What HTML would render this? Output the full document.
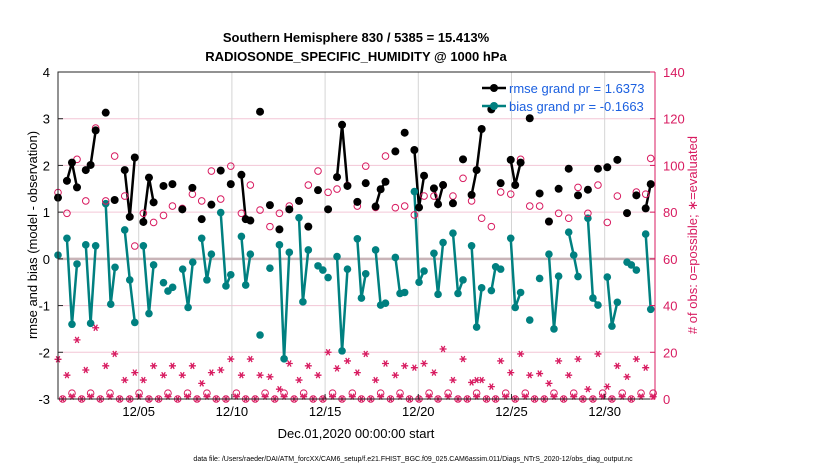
<!DOCTYPE html>
<html><head><meta charset="utf-8"><style>
body{margin:0;background:#fff;}
svg{display:block;font-family:"Liberation Sans",sans-serif;}
</style></head><body>
<svg id="chart" width="830" height="470" viewBox="0 0 830 470" xmlns="http://www.w3.org/2000/svg">
<rect width="830" height="470" fill="#fff"/>
<g id="grid"></g><g id="marks"></g><g id="axes"></g>
<text x="356" y="42" text-anchor="middle" font-size="13" font-weight="bold">Southern Hemisphere 830 / 5385 = 15.413%</text>
<text x="356" y="61" text-anchor="middle" font-size="13" font-weight="bold">RADIOSONDE_SPECIFIC_HUMIDITY @ 1000 hPa</text>
<text transform="translate(37,235) rotate(-90)" text-anchor="middle" font-size="13">rmse and bias (model - observation)</text>
<text transform="translate(697,235) rotate(-90)" text-anchor="middle" font-size="13" fill="#d81b60">#  of obs: o=possible; ∗=evaluated</text>
<text x="356" y="438" text-anchor="middle" font-size="13">Dec.01,2020 00:00:00 start</text>
<text x="413" y="461" text-anchor="middle" font-size="7">data file: /Users/raeder/DAI/ATM_forcXX/CAM6_setup/f.e21.FHIST_BGC.f09_025.CAM6assim.011/Diags_NTrS_2020-12/obs_diag_output.nc</text>
<g>
<line x1="482" y1="88" x2="506" y2="88" stroke="#000" stroke-width="2.5"/><circle cx="494" cy="88" r="4" fill="#000"/>
<text x="509" y="93" font-size="13" fill="#1a5fe0">rmse grand pr = 1.6373</text>
<line x1="482" y1="106" x2="506" y2="106" stroke="#008080" stroke-width="2.5"/><circle cx="494" cy="106" r="4" fill="#008080"/>
<text x="509" y="111" font-size="13" fill="#1a5fe0">bias grand pr = -0.1663</text>
</g>
</svg>
<script>
const xTickDays=[5,10,15,20,25,30];
const xTickLabels=['12/05','12/10','12/15','12/20','12/25','12/30'];
const yTicks=[-3,-2,-1,0,1,2,3,4];
const y2Ticks=[0,20,40,60,80,100,120,140];
const rmseT=[0.67,null,1.15,1.42,1.69,null,2.16,2.42,2.69,null,3.23,null,3.71,null,4.25,4.52,4.79,null,5.25,5.55,5.80,null,6.33,null,6.81,null,7.34,null,7.88,null,8.38,null,8.90,null,9.40,null,9.94,null,10.51,10.74,10.99,null,11.51,null,12.04,null,12.55,null,13.08,null,13.60,null,14.10,null,14.62,null,15.16,null,15.64,15.91,16.20,null,16.73,null,17.18,null,17.71,17.98,18.24,null,18.77,null,19.27,null,19.79,20.04,20.31,null,20.84,21.06,21.33,null,21.86,null,22.40,null,22.86,23.13,23.40,null,23.92,null,24.42,null,24.96,25.2,25.49,null,25.98,null,26.51,null,27.01,null,27.53,null,28.07,null,28.57,null,29.10,null,29.64,null,30.14,null,30.68,null,31.20,null,31.70,null,32.20,32.47];
const rmseV=[1.31,null,1.67,2.06,1.53,null,1.90,2.01,2.75,null,3.13,null,1.26,null,1.90,0.90,2.17,null,0.79,1.74,1.21,null,1.56,null,1.60,null,1.06,null,1.52,null,0.85,null,1.16,null,1.89,null,1.60,null,1.80,0.85,0.82,null,3.15,null,1.15,null,0.63,null,1.06,null,1.24,null,0.69,null,1.47,null,1.06,null,1.75,2.87,1.56,null,1.22,null,1.62,null,1.12,1.49,1.65,null,2.30,null,2.70,null,2.33,1.10,1.78,null,1.51,1.17,1.58,null,1.19,null,2.13,null,1.37,1.90,2.78,null,3.20,null,1.62,null,2.12,1.58,2.06,null,3.01,null,1.40,null,0.80,null,1.50,null,1.93,null,1.36,null,1.48,null,1.93,null,1.96,null,2.12,null,0.98,null,1.36,null,1.08,1.60];
const biasT=[0.67,null,1.15,1.42,1.69,null,2.16,2.42,2.69,null,3.23,3.50,3.73,null,4.25,4.52,4.79,null,5.25,5.55,5.80,null,6.33,null,6.57,6.82,null,7.36,7.65,7.90,null,8.38,8.66,8.90,null,9.40,9.68,9.94,null,10.51,10.74,10.99,null,11.51,null,12.04,null,12.55,12.80,13.08,null,13.60,13.81,14.10,null,14.62,null,14.88,null,15.16,null,15.64,15.91,16.20,null,16.73,16.95,17.18,null,17.71,17.98,18.24,null,18.77,19.02,19.27,null,19.79,20.04,20.31,null,20.84,21.06,21.33,null,21.86,22.13,22.40,null,22.86,23.13,23.40,null,23.92,24.15,24.42,null,24.96,25.2,25.49,null,25.98,null,26.51,null,27.01,27.28,27.53,null,28.07,28.34,28.57,null,29.10,29.37,29.64,null,30.14,30.39,30.68,null,31.20,31.43,31.70,null,32.20,32.47];
const biasV=[0.08,null,0.44,-1.40,-0.11,null,0.30,-1.38,0.28,null,1.18,-0.97,-0.18,null,0.62,-0.45,-1.36,null,0.28,-1.17,-0.13,null,-0.51,null,-0.69,-0.61,null,-0.22,-1.04,-0.07,null,0.44,-0.45,0.10,null,0.99,-0.58,-0.34,null,0.48,-0.56,0.10,null,-1.63,null,-0.20,null,0.30,-2.14,0.14,null,0.88,-0.92,0.19,null,-0.15,null,-0.24,null,-0.40,null,0.05,-1.97,-0.22,null,0.43,-0.84,-0.32,null,0.19,-0.99,-0.95,null,0.03,-0.74,-0.72,null,1.44,-0.50,-0.26,null,0.12,-0.76,0.35,null,0.55,-0.74,-0.45,null,0.28,-1.46,-0.62,null,-0.68,-0.17,-0.22,null,0.44,-1.04,-0.72,null,-1.31,null,-0.42,null,0.10,-1.50,-0.37,null,0.57,0.08,-0.38,null,0.87,-0.84,-0.99,null,-0.39,-1.44,-0.93,null,-0.07,-0.13,-0.24,null,0.53,-1.08];
const possT=[0.67,1.15,1.69,2.16,2.69,3.23,3.71,4.25,4.79,5.25,5.80,6.33,6.81,7.34,7.88,8.38,8.90,9.40,9.94,10.51,10.99,11.51,12.04,12.55,13.08,13.60,14.10,14.62,15.16,15.64,16.20,16.73,17.18,17.71,18.24,18.77,19.27,19.79,20.31,20.84,21.33,21.86,22.40,22.86,23.40,23.92,24.42,24.96,25.49,25.98,26.51,27.01,27.53,28.07,28.57,29.10,29.64,30.14,30.68,31.20,31.70,32.20,32.47];
const possV=[88.4,79.5,102.6,84.8,116,84.8,104,86.9,65.5,79.5,75.6,78.6,82.6,81.6,87.7,84.8,97.6,85.6,99.7,79.5,91.6,80.9,73.8,79.5,82.6,84.8,91.6,97.6,88.5,89.9,91.4,82.6,99.7,82,104,81.9,82.6,78.8,86.9,86.9,91.6,86.9,94.5,84.8,77.4,73.8,88.6,87.7,102.6,82.6,82.6,75.9,79.5,77.4,90.6,79.5,91.6,75.6,86.9,79.5,88.6,87.7,103];
const evalT=[0.67,1.15,1.69,2.16,2.69,3.23,3.71,4.25,4.79,5.25,5.80,6.33,6.81,7.34,7.88,8.38,8.90,9.40,9.94,10.51,10.99,11.51,12.04,12.55,13.08,13.60,14.10,14.62,15.16,15.64,16.20,16.73,17.18,17.71,18.24,18.77,19.27,19.79,20.31,20.84,21.33,21.86,22.40,22.86,23.13,23.40,23.92,24.42,24.96,25.49,25.98,26.51,27.01,27.53,28.07,28.57,29.10,29.64,30.14,30.68,31.20,31.70,32.20];
const evalV=[17,10.2,25.3,12.4,30.5,14.2,19.3,8.1,11.3,8.1,14.2,10.2,14.2,10.2,14.2,6.7,11.3,12.4,17.1,10.2,17.1,10.2,9.5,4.2,15.2,8.1,14.2,10.2,20,13.1,16.3,11.3,19.3,8.1,15.2,10.2,14.2,13.4,15.2,11.3,21.4,8.1,17.1,7.1,8.1,8.1,5.3,16.3,11.3,19.3,10.2,10.9,6.7,16.3,10.2,17.1,4.2,19.3,5.3,14.2,9.5,17.1,13.4];
const lowT=[0.92,1.42,1.94,2.42,2.94,3.46,3.98,4.52,5.02,5.55,6.07,6.57,7.09,7.62,8.13,8.66,9.16,9.68,10.24,10.74,11.25,11.78,12.30,12.80,13.34,13.85,14.36,14.88,15.40,15.91,16.46,16.95,17.45,17.98,18.51,19.02,19.53,20.04,20.58,21.06,21.60,22.13,22.63,23.13,23.66,24.15,24.69,25.2,25.74,26.24,26.76,27.28,27.80,28.34,28.83,29.37,29.89,30.39,30.94,31.43,31.95,32.60];
const lowPossV=[0,2.5,0,2.5,0,2.5,0,0,2.5,0,0,2.5,0,2.5,0,2.5,0,0,2.5,0,0,2.5,0,2.5,0,2.5,0,0,2.5,0,2.5,0,0,2.5,0,2.5,0,0,2.5,0,2.5,0,0,2.5,0,0,2.5,0,2.5,0,0,2.5,0,2.5,0,0,2.5,0,2.5,0,2.5,2.5];
const lowEvalV=[0,1,0,1,0,1,0,0,1,0,0,1,0,1,0,1,0,0,1,0,0,1,0,1,0,1,0,0,1,0,1,0,0,1,0,1,0,0,1,0,1,0,0,1,0,0,1,0,1,0,0,1,0,1,0,0,1,0,1,0,1,1];

const NS='http://www.w3.org/2000/svg';
const L=58,R=655,T=72,B=399;
const xMin=0.67,xMax=32.7;
const xS=d=>L+(d-xMin)/(xMax-xMin)*(R-L);
const yS=v=>B-(v+3)/7*(B-T);
const y2S=v=>B-v/140*(B-T);
function mk(tag,attrs,parent){const e=document.createElementNS(NS,tag);for(const k in attrs)e.setAttribute(k,attrs[k]);parent.appendChild(e);return e;}
const grid=document.getElementById('grid'),marks=document.getElementById('marks'),axes=document.getElementById('axes');
const CR='#d81b60';
yTicks.forEach(v=>{if(v===-3||v===4||v===0)return;const l=mk('line',{x1:L,x2:R,y1:yS(v),y2:yS(v),stroke:'#f3c6d6','stroke-width':1},grid);

});
xTickDays.forEach(d=>{const l=mk('line',{x1:xS(d),x2:xS(d),y1:T,y2:B,stroke:'#d4d4d4','stroke-width':1},grid);

});
const zl=mk('line',{x1:L,x2:R,y1:yS(0),y2:yS(0),stroke:'#c8b4b8','stroke-width':2.5},grid);


function path(T_,V_,ys){let d='',pen=false;for(let i=0;i<T_.length;i++){if(T_[i]===null){pen=false;continue;}d+=(pen?'L':'M')+xS(T_[i]).toFixed(1)+','+ys(V_[i]).toFixed(1);pen=true;}return d;}
const bl=mk('path',{d:path(biasT,biasV,yS),fill:'none',stroke:'#008080','stroke-width':2.5},marks);


const rl=mk('path',{d:path(rmseT,rmseV,yS),fill:'none',stroke:'#000','stroke-width':2.5},marks);


biasT.forEach((t,i)=>{if(t===null)return;const c=mk('circle',{cx:xS(t),cy:yS(biasV[i]),r:3.8,fill:'#008080'},marks);

});
function circ(t,v,name){const c=mk('circle',{cx:xS(t),cy:y2S(v),r:3.3,fill:'none',stroke:CR,'stroke-width':1},marks);

}
function star(t,v,name){const x=xS(t),y=y2S(v),r=3.5,q=r*0.866;
const s=mk('path',{d:`M${x-r},${y}L${x+r},${y}M${x-r/2},${y-q}L${x+r/2},${y+q}M${x-r/2},${y+q}L${x+r/2},${y-q}`,stroke:CR,'stroke-width':1.3,fill:'none'},marks);

}
possT.forEach((t,i)=>circ(t,possV[i],'possible-obs-marker'));
lowT.forEach((t,i)=>circ(t,lowPossV[i],'possible-obs-marker'));
evalT.forEach((t,i)=>star(t,evalV[i],'evaluated-obs-marker'));
lowT.forEach((t,i)=>star(t,lowEvalV[i],'evaluated-obs-marker'));
rmseT.forEach((t,i)=>{if(t===null)return;const c=mk('circle',{cx:xS(t),cy:yS(rmseV[i]),r:4,fill:'#000'},marks);

});
const fr=mk('path',{d:`M${R},${T}L${L},${T}L${L},${B}L${R},${B}`,fill:'none',stroke:'#262626','stroke-width':1},axes);


const ra=mk('line',{x1:R,x2:R,y1:T,y2:B,stroke:CR,'stroke-width':1},axes);


yTicks.forEach(v=>{mk('line',{x1:L,x2:L+5,y1:yS(v),y2:yS(v),stroke:'#262626'},axes);
const t=mk('text',{x:L-8,y:yS(v)+5,'text-anchor':'end','font-size':13},axes);t.textContent=v;

});
y2Ticks.forEach(v=>{mk('line',{x1:R-5,x2:R,y1:y2S(v),y2:y2S(v),stroke:CR},axes);
const t=mk('text',{x:R+8,y:y2S(v)+5,'font-size':13,fill:CR},axes);t.textContent=v;

});
xTickDays.forEach((d,i)=>{mk('line',{x1:xS(d),x2:xS(d),y1:B,y2:B-5,stroke:'#262626'},axes);
const t=mk('text',{x:xS(d),y:B+17,'text-anchor':'middle','font-size':13},axes);t.textContent=xTickLabels[i];

});
</script>
</body></html>
